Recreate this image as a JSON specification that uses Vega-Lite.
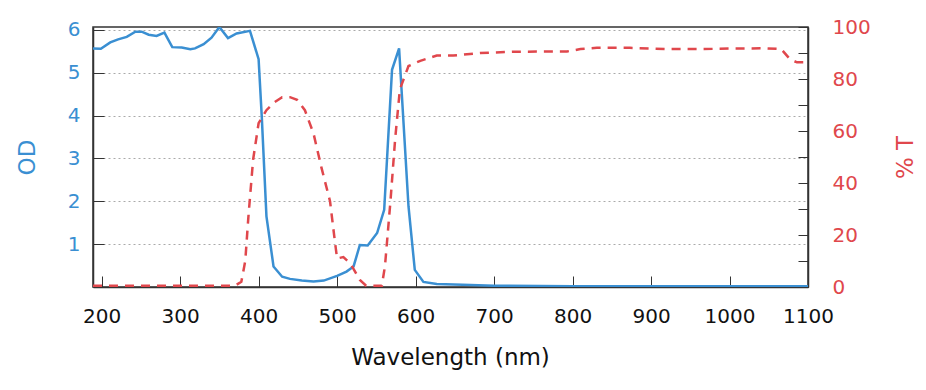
{
  "$schema": "https://vega.github.io/schema/vega-lite/v6.json",
  "autosize": {"type": "none"},
  "padding": {"left": 93, "top": 27, "right": 118, "bottom": 103},
  "width": 715,
  "height": 260,
  "background": "white",
  "config": {
    "view": {"stroke": "#333333", "strokeWidth": 1.5},
    "font": "DejaVu Sans",
    "axis": {"labelFont": "DejaVu Sans", "titleFont": "DejaVu Sans", "titleFontWeight": "normal"}
  },
  "datasets": {
    "od": [
      {"wl": 189, "OD": 5.57}, {"wl": 199, "OD": 5.56}, {"wl": 211, "OD": 5.71}, {"wl": 221, "OD": 5.78},
      {"wl": 232, "OD": 5.84}, {"wl": 243, "OD": 5.96}, {"wl": 251, "OD": 5.96}, {"wl": 260, "OD": 5.89},
      {"wl": 270, "OD": 5.86}, {"wl": 280, "OD": 5.94}, {"wl": 290, "OD": 5.6}, {"wl": 302, "OD": 5.59},
      {"wl": 313, "OD": 5.55}, {"wl": 319, "OD": 5.57}, {"wl": 330, "OD": 5.67}, {"wl": 340, "OD": 5.82},
      {"wl": 350, "OD": 6.07}, {"wl": 361, "OD": 5.81}, {"wl": 372, "OD": 5.92}, {"wl": 389, "OD": 5.98},
      {"wl": 400, "OD": 5.32}, {"wl": 404, "OD": 3.99}, {"wl": 410, "OD": 1.65}, {"wl": 419, "OD": 0.48},
      {"wl": 430, "OD": 0.24}, {"wl": 440, "OD": 0.19}, {"wl": 455, "OD": 0.15}, {"wl": 470, "OD": 0.13},
      {"wl": 483, "OD": 0.15}, {"wl": 500, "OD": 0.26}, {"wl": 512, "OD": 0.36}, {"wl": 521, "OD": 0.48},
      {"wl": 529, "OD": 0.98}, {"wl": 539, "OD": 0.97}, {"wl": 551, "OD": 1.26}, {"wl": 560, "OD": 1.8},
      {"wl": 570, "OD": 5.07}, {"wl": 579, "OD": 5.57}, {"wl": 591, "OD": 1.88}, {"wl": 599, "OD": 0.4},
      {"wl": 610, "OD": 0.12}, {"wl": 627, "OD": 0.07}, {"wl": 660, "OD": 0.05}, {"wl": 700, "OD": 0.03},
      {"wl": 800, "OD": 0.02}, {"wl": 900, "OD": 0.02}, {"wl": 1000, "OD": 0.02}, {"wl": 1100, "OD": 0.02}
    ],
    "tr": [
      {"wl": 189, "T": 0.5}, {"wl": 370, "T": 0.5}, {"wl": 378, "T": 2}, {"wl": 383, "T": 10},
      {"wl": 387, "T": 27}, {"wl": 393, "T": 49}, {"wl": 400, "T": 63}, {"wl": 410, "T": 68},
      {"wl": 420, "T": 71}, {"wl": 430, "T": 73}, {"wl": 440, "T": 73}, {"wl": 449, "T": 72},
      {"wl": 459, "T": 68}, {"wl": 470, "T": 59}, {"wl": 480, "T": 46}, {"wl": 491, "T": 33},
      {"wl": 497, "T": 18}, {"wl": 500, "T": 11}, {"wl": 508, "T": 11.5}, {"wl": 517, "T": 9},
      {"wl": 529, "T": 2.7}, {"wl": 537, "T": 0.5}, {"wl": 557, "T": 0.5}, {"wl": 561, "T": 8},
      {"wl": 568, "T": 33}, {"wl": 574, "T": 57}, {"wl": 580, "T": 76}, {"wl": 591, "T": 85},
      {"wl": 606, "T": 87}, {"wl": 627, "T": 89}, {"wl": 648, "T": 89}, {"wl": 682, "T": 90},
      {"wl": 725, "T": 90.5}, {"wl": 793, "T": 90.6}, {"wl": 810, "T": 91.5}, {"wl": 831, "T": 92},
      {"wl": 873, "T": 92}, {"wl": 920, "T": 91.5}, {"wl": 962, "T": 91.5}, {"wl": 1000, "T": 91.7},
      {"wl": 1047, "T": 91.8}, {"wl": 1066, "T": 91.5}, {"wl": 1077, "T": 87.6}, {"wl": 1086, "T": 86.4},
      {"wl": 1100, "T": 86.4}
    ]
  },
  "layer": [
    {
      "data": {"name": "od"},
      "mark": {"type": "line", "color": "#3a8fd2", "strokeWidth": 2.5, "clip": true},
      "encoding": {
        "x": {
          "field": "wl", "type": "quantitative",
          "scale": {"domain": [189, 1100], "nice": false, "zero": false},
          "axis": {
            "title": "Wavelength (nm)", "values": [200, 300, 400, 500, 600, 700, 800, 900, 1000, 1100],
            "format": "d",
            "grid": false, "tickSize": -11, "tickColor": "#333333", "domainColor": "#333333", "domainWidth": 1.5,
            "labelFontSize": 20, "labelColor": "#111111", "labelPadding": 30, "labelFlush": false,
            "titleFontSize": 23, "titleColor": "#111111",
            "titleX": 357, "titleY": 70, "titleBaseline": "middle", "titleAlign": "center"
          }
        },
        "y": {
          "field": "OD", "type": "quantitative",
          "scale": {"domain": [0, 6.07], "nice": false},
          "axis": {
            "title": "OD", "values": [1, 2, 3, 4, 5, 6], "orient": "left",
            "grid": true, "gridDash": [2, 3], "gridColor": "#aaaaaa", "gridWidth": 1,
            "tickSize": -11, "tickColor": "#333333", "domainColor": "#333333", "domainWidth": 1.5,
            "labelFontSize": 20, "labelColor": "#3a8fd2", "labelPadding": 24,
            "titleFontSize": 23, "titleColor": "#3a8fd2",
            "titleAngle": -90, "titleX": -66, "titleY": 130, "titleBaseline": "middle", "titleAlign": "center"
          }
        }
      }
    },
    {
      "data": {"name": "tr"},
      "mark": {"type": "line", "color": "#e0474c", "strokeWidth": 2.5, "strokeDash": [9, 7], "clip": true},
      "encoding": {
        "x": {"field": "wl", "type": "quantitative"},
        "y": {
          "field": "T", "type": "quantitative",
          "scale": {"domain": [0, 100], "nice": false},
          "axis": {
            "title": "% T", "orient": "right",
            "values": [0, 10, 20, 30, 40, 50, 60, 70, 80, 90, 100],
            "labelExpr": "datum.value % 20 === 0 ? datum.label : ''",
            "grid": false, "tickSize": -10, "tickColor": "#333333", "domainColor": "#333333", "domainWidth": 1.5,
            "labelFontSize": 20, "labelColor": "#e0474c", "labelPadding": 34, "labelFlush": false,
            "titleFontSize": 23, "titleColor": "#e0474c",
            "titleAngle": -90, "titleX": 97, "titleY": 130, "titleBaseline": "middle", "titleAlign": "center"
          }
        }
      }
    }
  ],
  "resolve": {"scale": {"y": "independent"}}
}
